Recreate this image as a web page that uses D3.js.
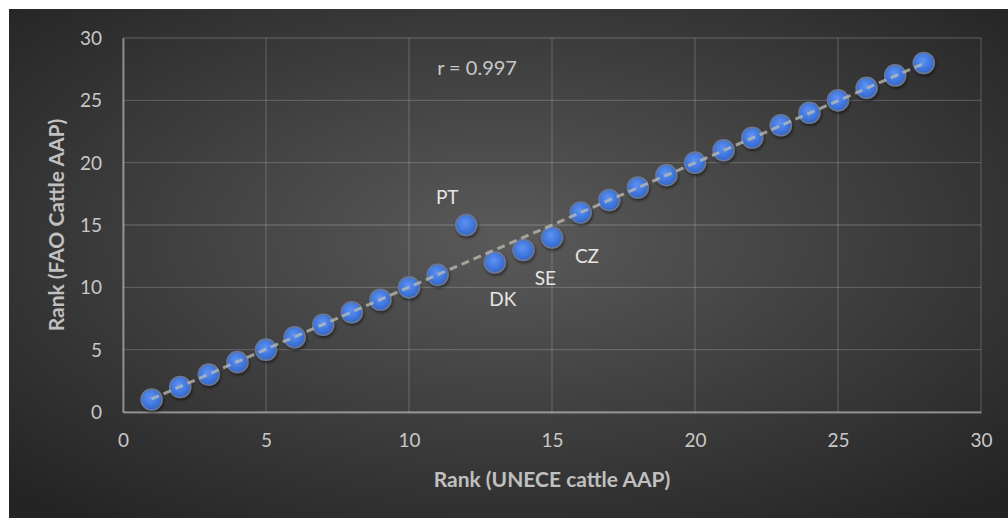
<!DOCTYPE html>
<html>
<head>
<meta charset="utf-8">
<script src="https://cdn.jsdelivr.net/npm/d3@7"></script>
<style>
html,body{margin:0;padding:0;background:#fff;}
svg{display:block;}
</style>
</head>
<body>
<svg id="chart" width="1008" height="518"></svg>
<script>
// Data
const uneceRank = [1,2,3,4,5,6,7,8,9,10,11,12,13,14,15,16,17,18,19,20,21,22,23,24,25,26,27,28];
const faoRank   = [1,2,3,4,5,6,7,8,9,10,11,15,12,13,14,16,17,18,19,20,21,22,23,24,25,26,27,28];
const labelNames = ["PT","DK","SE","CZ"];
const labelIndex = [11,12,13,14];
const xTicks = [0,5,10,15,20,25,30];
const yTicks = [0,5,10,15,20,25,30];
const corrText = "r = 0.997";

const svg = d3.select("#chart");
const W = 1008, H = 518;
const margin = {left:123, right:27, top:38, bottom:106};
const FONT = "Lato, 'Open Sans', sans-serif";

const defs = svg.append("defs");
const bg = defs.append("radialGradient").attr("id","bg")
  .attr("cx","50%").attr("cy","45%").attr("r","70%");
bg.append("stop").attr("offset","0%").attr("stop-color","#5a5a5a");
bg.append("stop").attr("offset","100%").attr("stop-color","#242424");

const mk = defs.append("radialGradient").attr("id","mk")
  .attr("cx","45%").attr("cy","40%").attr("r","60%");
mk.append("stop").attr("offset","0%").attr("stop-color","#5f93f2");
mk.append("stop").attr("offset","100%").attr("stop-color","#2f66d0");

const sh = defs.append("filter").attr("id","sh").attr("x","-50%").attr("y","-50%").attr("width","200%").attr("height","200%");
sh.append("feDropShadow").attr("dx",1).attr("dy",2).attr("stdDeviation",1.5).attr("flood-color","#000").attr("flood-opacity",0.5);

svg.append("rect").attr("x",9).attr("y",9).attr("width",W-9).attr("height",H-9).attr("fill","url(#bg)");

const x = d3.scaleLinear().domain([0,30]).range([margin.left, W-margin.right]);
const y = d3.scaleLinear().domain([0,30]).range([H-margin.bottom, margin.top]);

// gridlines
const grid = svg.append("g");
grid.selectAll(".gx").data(xTicks).join("line")
  .attr("x1",d=>x(d)).attr("x2",d=>x(d)).attr("y1",y(0)).attr("y2",y(30))
  .attr("stroke","rgba(255,255,255,0.17)").attr("stroke-width",1.3);
grid.selectAll(".gy").data(yTicks).join("line")
  .attr("x1",x(0)).attr("x2",x(30)).attr("y1",d=>y(d)).attr("y2",d=>y(d))
  .attr("stroke","rgba(255,255,255,0.17)").attr("stroke-width",1.3);

// axes
const axisColor = "rgba(255,255,255,0.38)";
const xAxis = svg.append("g").attr("transform",`translate(0,${y(0)})`)
  .call(d3.axisBottom(x).tickValues(xTicks).tickSize(0).tickPadding(24));
const yAxis = svg.append("g").attr("transform",`translate(${x(0)},0)`)
  .call(d3.axisLeft(y).tickValues(yTicks).tickSize(0).tickPadding(21));
[xAxis,yAxis].forEach(a=>{
  a.select(".domain").attr("stroke",axisColor).attr("stroke-width",2);
  a.selectAll("text").attr("fill","#c8c8c8").style("font-family",FONT).style("font-size","19px");
});
xAxis.selectAll("text").attr("dy","0.6em");
yAxis.selectAll("text").attr("dy","0.35em");

// points
const pts = uneceRank.map((u,i)=>({u, f: faoRank[i]}));
svg.append("g").selectAll("circle").data(pts).join("circle")
  .attr("cx",d=>x(d.u)).attr("cy",d=>y(d.f)).attr("r",10.5)
  .attr("fill","url(#mk)").attr("stroke","#6a7792").attr("stroke-width",1.6)
  .attr("filter","url(#sh)");

// linear trendline (least squares fit)
const mx = d3.mean(pts,d=>d.u), my = d3.mean(pts,d=>d.f);
const slope = d3.sum(pts,d=>(d.u-mx)*(d.f-my)) / d3.sum(pts,d=>(d.u-mx)**2);
const intercept = my - slope*mx;
const x0 = d3.min(uneceRank), x1 = d3.max(uneceRank);
svg.append("line")
  .attr("x1",x(x0)).attr("y1",y(intercept+slope*x0))
  .attr("x2",x(x1)).attr("y2",y(intercept+slope*x1))
  .attr("stroke","rgba(190,190,180,0.75)").attr("stroke-width",3)
  .attr("stroke-dasharray","8,5");

// data labels
const labelOffsets = [[-19,-28],[8,37],[22,28],[35,19]];
svg.append("g").selectAll("text").data(labelNames).join("text")
  .attr("x",(d,i)=>x(pts[labelIndex[i]].u)+labelOffsets[i][0])
  .attr("y",(d,i)=>y(pts[labelIndex[i]].f)+labelOffsets[i][1])
  .attr("text-anchor","middle").attr("dy","0.35em")
  .attr("fill","#e6e6e6")
  .style("font-family",FONT).style("font-size","19px")
  .text(d=>d);

// r text
svg.append("text").attr("x",x(12.38)).attr("y",y(27.6)).attr("dy","0.35em")
  .attr("text-anchor","middle").attr("fill","#c8c8c8")
  .style("font-family",FONT).style("font-size","20px")
  .attr("xml:space","preserve")
  .text(corrText);

// axis titles
svg.append("text").attr("x",(x(0)+x(30))/2).attr("y",480).attr("dy","0.35em")
  .attr("text-anchor","middle").attr("fill","#c0c0c0")
  .style("font-family",FONT).style("font-size","21px").style("font-weight","bold")
  .text("Rank (UNECE cattle AAP)");
svg.append("text").attr("transform",`translate(57,${(y(0)+y(30))/2}) rotate(-90)`).attr("dy","0.35em")
  .attr("text-anchor","middle").attr("fill","#c0c0c0")
  .style("font-family",FONT).style("font-size","21px").style("font-weight","bold")
  .text("Rank (FAO Cattle AAP)");
</script>
</body>
</html>
